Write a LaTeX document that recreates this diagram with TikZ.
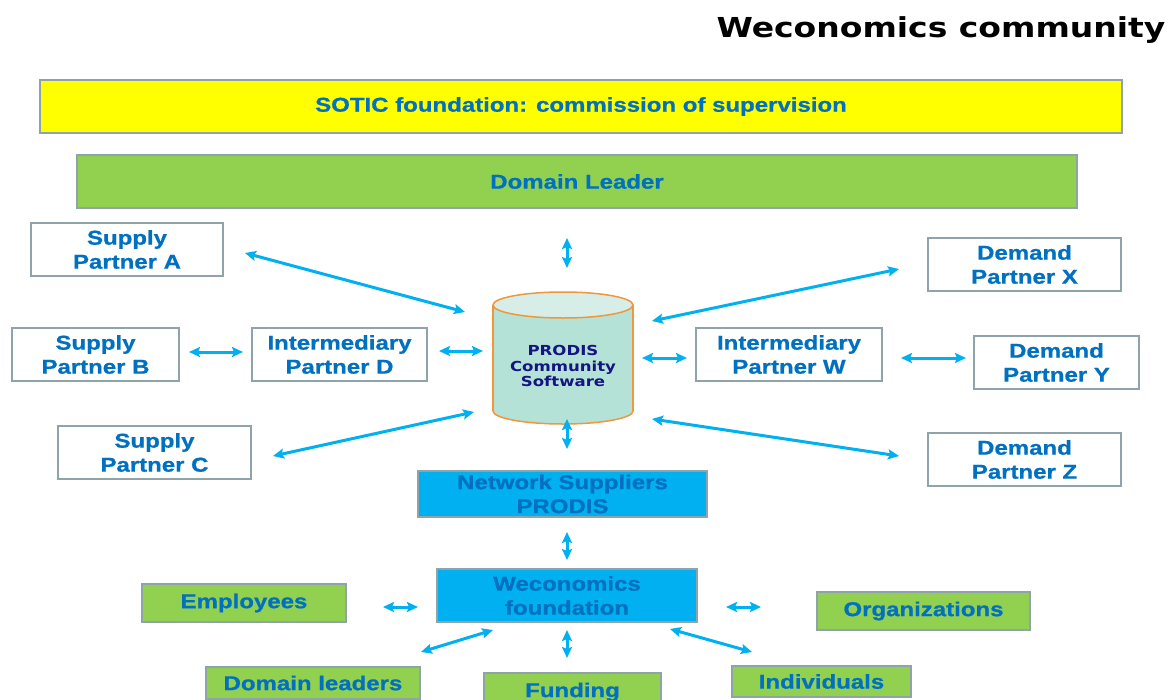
\documentclass[tikz,border=0pt]{standalone}
\usepackage{fontspec}
\newfontfamily\boxfont[FakeStretch=1.2, FakeBold=0.8]{Liberation Sans Bold}
\newfontfamily\vfont[FakeStretch=1.2]{DejaVu Sans Bold}
\usetikzlibrary{arrows.meta}
\definecolor{bord}{RGB}{143,164,168}
\definecolor{txtblue}{RGB}{0,112,192}
\definecolor{lgreen}{RGB}{146,208,80}
\definecolor{yelbox}{RGB}{255,255,0}
\definecolor{cyanbox}{RGB}{0,176,240}
\definecolor{arrowc}{RGB}{0,176,240}
\definecolor{cylbody}{RGB}{181,226,214}
\definecolor{cyltop}{RGB}{214,238,231}
\definecolor{cylline}{RGB}{240,150,60}
\definecolor{navyt}{RGB}{20,20,130}
\begin{document}
\begin{tikzpicture}[x=1pt,y=-1pt,
  box/.style={draw=bord, line width=2.5pt, inner sep=0pt, font=\boxfont\fontsize{20}{24}\selectfont, text=txtblue, align=center},
  wbox/.style={box, fill=white},
  gbox/.style={box, fill=lgreen},
  ybox/.style={box, fill=yelbox},
  cbox/.style={box, fill=cyanbox},
  conn/.style={draw=arrowc, line width=3pt, {Stealth[length=11pt,width=10pt,inset=2pt]}-{Stealth[length=11pt,width=10pt,inset=2pt]}}
]
\useasboundingbox (0,0) rectangle (1173,699);
\clip (0,0) rectangle (1173,699);

% title
\node[anchor=base, font=\vfont\fontsize{27.5}{30}\selectfont, inner sep=0pt] (title) at (941,37) {Weconomics community};

% top bars
\node[ybox, minimum width=1082, minimum height=53] (sotic) at (581,106.5) {\raisebox{-2pt}{SOTIC foundation: commission of supervision}};
\node[gbox, minimum width=1000, minimum height=53] (dl) at (577,181.5) {\raisebox{-2pt}{Domain Leader}};

% supply side
\node[wbox, minimum width=192, minimum height=53] (A) at (127,249.5) {Supply\\Partner A};
\node[wbox, minimum width=167, minimum height=53] (B) at (95.5,354.5) {Supply\\Partner B};
\node[wbox, minimum width=175, minimum height=53] (D) at (339.5,354.5) {Intermediary\\Partner D};
\node[wbox, minimum width=193, minimum height=53] (C) at (154.5,452.5) {Supply\\Partner C};

% demand side
\node[wbox, minimum width=193, minimum height=53] (X) at (1024.5,264.5) {Demand\\Partner X};
\node[wbox, minimum width=186, minimum height=53] (W) at (789,354.5) {Intermediary\\Partner W};
\node[wbox, minimum width=165, minimum height=53] (Y) at (1056.5,362.5) {Demand\\Partner Y};
\node[wbox, minimum width=193, minimum height=53] (Z) at (1024.5,459.5) {Demand\\Partner Z};

% cylinder
\filldraw[fill=cylbody, draw=cylline, line width=1.5pt] (563,411) ellipse [x radius=70, y radius=13];
\fill[cylbody] (493,305) rectangle (633,411);
\draw[cylline, line width=1.5pt] (493,305) -- (493,411) (633,305) -- (633,411);
\filldraw[fill=cyltop, draw=cylline, line width=1.5pt] (563,305) ellipse [x radius=70, y radius=13];
\node[font=\vfont\fontsize{13.8}{15.5}\selectfont, text=navyt, align=center, inner sep=0pt] (cyl) at (563,366) {PRODIS\\Community\\Software};

% lower part
\node[cbox, minimum width=289, minimum height=46] (net) at (562.5,494) {Network Suppliers\\PRODIS};
\node[cbox, minimum width=260, minimum height=53] (wf) at (567,595.5) {Weconomics\\foundation};
\node[gbox, minimum width=204, minimum height=38] (emp) at (244,603) {\raisebox{-2pt}{Employees}};
\node[gbox, minimum width=213, minimum height=38] (org) at (923.5,611) {Organizations};
\node[gbox, minimum width=214, minimum height=32] (dls) at (313,683) {Domain leaders};
\node[gbox, minimum width=177, minimum height=38] (fund) at (572.5,692) {Funding};
\node[gbox, minimum width=179, minimum height=31] (ind) at (821.5,681.5) {\raisebox{-2pt}{Individuals}};

% connector end points
\coordinate (dlS) at (567,238);   \coordinate (cylN) at (567,268);
\coordinate (aE) at (245,253);    \coordinate (cylA) at (465,312);
\coordinate (bE) at (189,352);    \coordinate (dW) at (243,352);
\coordinate (dE) at (439,351);    \coordinate (cylD) at (483,351);
\coordinate (cE) at (273,456);    \coordinate (cylC) at (474,412);
\coordinate (cylX) at (652,321);  \coordinate (xW) at (899,269);
\coordinate (cylW) at (642,358);  \coordinate (wW) at (687,358);
\coordinate (wE) at (901,358);    \coordinate (yW) at (966,358);
\coordinate (cylZ) at (652,419);  \coordinate (zW) at (899,456);
\coordinate (cylS) at (567,419);  \coordinate (netN) at (567,449);
\coordinate (netS) at (567,532);  \coordinate (wfN) at (567,560);
\coordinate (empE) at (383,607);  \coordinate (wfW) at (418,607);
\coordinate (wfE) at (726,607);   \coordinate (orgW) at (761,607);
\coordinate (wfSW) at (493,630);  \coordinate (dlsN) at (421,652);
\coordinate (wfS) at (567,630);   \coordinate (fundN) at (567,658);
\coordinate (wfSE) at (670,629);  \coordinate (indN) at (752,652);

\draw[conn] (dlS) -- (cylN);
\draw[conn] (aE) -- (cylA);
\draw[conn] (bE) -- (dW);
\draw[conn] (dE) -- (cylD);
\draw[conn] (cE) -- (cylC);
\draw[conn] (cylX) -- (xW);
\draw[conn] (cylW) -- (wW);
\draw[conn] (wE) -- (yW);
\draw[conn] (cylZ) -- (zW);
\draw[conn] (cylS) -- (netN);
\draw[conn] (netS) -- (wfN);
\draw[conn] (empE) -- (wfW);
\draw[conn] (wfE) -- (orgW);
\draw[conn] (wfSW) -- (dlsN);
\draw[conn] (wfS) -- (fundN);
\draw[conn] (wfSE) -- (indN);
\end{tikzpicture}
\end{document}
